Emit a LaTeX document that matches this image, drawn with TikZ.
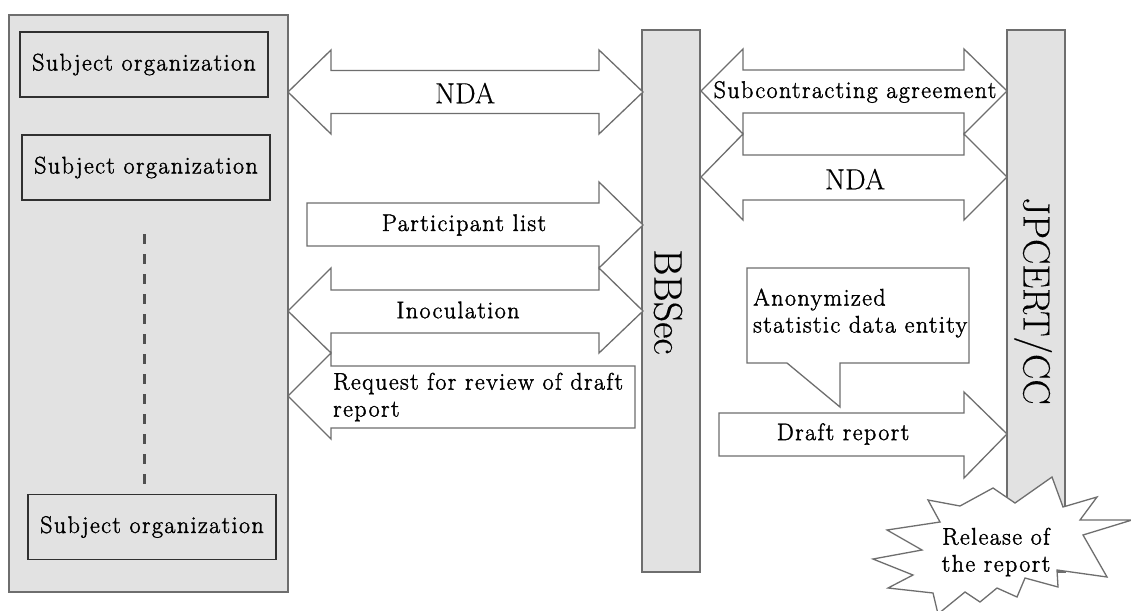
\documentclass[tikz,border=0pt]{standalone}
\usepackage{fontspec}
\newfontfamily\labfont[FakeBold=1.6, LetterSpace=6]{Latin Modern Roman}
\newfontfamily\bigfont[FakeBold=0.3]{Latin Modern Roman}
\definecolor{linegray}{HTML}{6E6E6E}
\definecolor{barfill}{HTML}{E2E2E2}
\definecolor{boxline}{HTML}{303030}
\definecolor{dashgray}{HTML}{505050}
\tikzset{
  blk/.style={draw=linegray, line width=1.3pt, fill=white, line join=miter},
  bar/.style={draw=linegray, line width=1.5pt, fill=barfill},
  orgbox/.style={draw=boxline, line width=1.2pt, minimum width=248pt, minimum height=65pt, inner sep=0pt},
  orgtext/.style={font=\labfont\fontsize{24}{29}\selectfont, inner sep=0pt},
  lbl/.style={font=\labfont\fontsize{24}{27}\selectfont, inner sep=0pt},
  biglbl/.style={font=\bigfont\fontsize{29}{33}\selectfont, inner sep=0pt},
  vlbl/.style={inner sep=0pt, rotate=-90},
}
\begin{document}
\begin{tikzpicture}[x=1pt, y=-1pt]
\useasboundingbox (0,0) rectangle (1131,610);
\fill[white] (0,0) rectangle (1131,610);

% ---------- shapes ----------
\draw[bar] (9,15) rectangle (288,592);
\node[orgbox] (org1) at (144,64.5) {};
\node[orgbox] (org2) at (146,167.5) {};
\node[orgbox] (org3) at (152,527) {};
\coordinate (dtop) at (144,234);
\coordinate (dbot) at (144,488);
\draw[dashgray, line width=3pt, dash pattern=on 10pt off 10pt] (dtop) -- (dbot);

\draw[bar] (642,30) rectangle (700,572);
\draw[bar] (1007,30) rectangle (1065,572);

% NDA (left, double)
\draw[blk] (288,92) -- (331,50) -- (331,70.5) -- (599,70.5) -- (599,50) -- (643,92)
  -- (599,134) -- (599,113.5) -- (331,113.5) -- (331,134) -- cycle;
% Participant list (right)
\draw[blk] (307,203) -- (599,203) -- (599,182) -- (643,225) -- (599,268) -- (599,246) -- (307,246) -- cycle;
% Inoculation (double)
\draw[blk] (288,311) -- (331,268) -- (331,290) -- (599,290) -- (599,268) -- (643,311)
  -- (599,353) -- (599,333) -- (331,333) -- (331,353) -- cycle;
% Request for review (left)
\draw[blk] (288,396) -- (331,353) -- (331,366) -- (635,366) -- (635,428) -- (331,428) -- (331,439) -- cycle;
% Subcontracting agreement (double)
\draw[blk] (701,91) -- (743,49) -- (743,70) -- (964,70) -- (964,49) -- (1007,91)
  -- (964,134) -- (964,113) -- (743,113) -- (743,134) -- cycle;
% NDA (right, double)
\draw[blk] (701,177) -- (743,134) -- (743,155) -- (964,155) -- (964,134) -- (1007,177)
  -- (964,220) -- (964,200) -- (743,200) -- (743,220) -- cycle;
% Callout
\draw[blk] (747,268) -- (969,268) -- (969,363) -- (840,363) -- (840,407) -- (787,363) -- (747,363) -- cycle;
% Draft report (right)
\draw[blk] (719,413) -- (964,413) -- (964,392) -- (1007,434) -- (964,478) -- (964,456) -- (719,456) -- cycle;
% Release star
\draw[blk] (928,500) -- (960,506) -- (993,488) -- (1015,503) -- (1052,477) -- (1063,507)
  -- (1097,497) -- (1080,520) -- (1132,520) -- (1083,535) -- (1107,577) -- (1057,570)
  -- (1058,587) -- (1025,578) -- (1017,597) -- (997,588) -- (980,602) -- (965,592)
  -- (938,614) -- (933,593) -- (888,588) -- (913,575) -- (873,559) -- (922,550)
  -- (887,530) -- (940,522) -- cycle;

% ---------- large labels ----------
\node[vlbl, font=\bigfont\fontsize{40}{42}\selectfont] (bbsec) at (668,302) {BBSec};
\node[vlbl, font=\bigfont\fontsize{38}{40}\selectfont] (jpcert) at (1033,301) {JPCERT/CC};
\node[biglbl] (nda1) at (465,93) {NDA};
\node[biglbl] (nda2) at (855,179) {NDA};

% ---------- heavier labels ----------
\node[orgtext] (t1) at (org1) {Subject organization};
\node[orgtext] (t2) at (org2) {Subject organization};
\node[orgtext] (t3) at (org3) {Subject organization};
\node[lbl] (plist) at (464,225) {Participant list};
\node[lbl] (inoc) at (458,310) {Inoculation};
\node[lbl, anchor=west, align=left] (req) at (333,397) {Request for review of draft\\report};
\node[lbl] (sub) at (855,92) {Subcontracting agreement};
\node[lbl, anchor=west, align=left] (anon) at (753,313) {Anonymized\\statistic data entity};
\node[lbl] (draft) at (843,434) {Draft report};
\node[lbl, align=center] (release) at (996,552) {Release of\\the report};
\end{tikzpicture}
\end{document}
